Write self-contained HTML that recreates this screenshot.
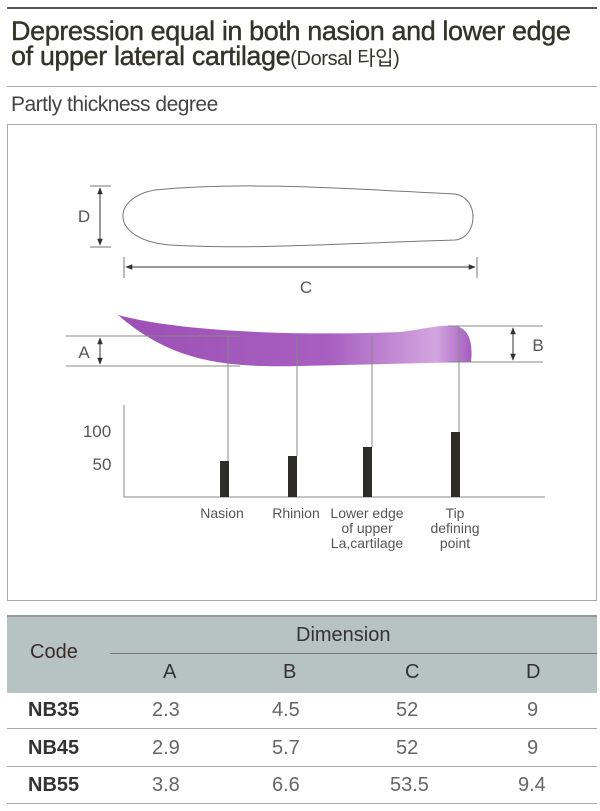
<!DOCTYPE html>
<html><head><meta charset="utf-8"><style>
body{margin:0;width:600px;height:811px;background:#fff;font-family:"Liberation Sans","Noto Sans CJK KR",sans-serif;position:relative;overflow:hidden}
.a{position:absolute}
</style></head><body>
<div class="a" style="left:7px;top:7px;width:590px;height:2px;background:#555"></div>
<div class="a" style="left:11px;top:19px;font-size:27px;line-height:25px;color:#33332a;letter-spacing:-0.4px;-webkit-text-stroke:0.4px #33332a">Depression equal in both nasion and lower edge<br>of upper lateral cartilage<span style="font-size:20px;-webkit-text-stroke:0">(Dorsal 타입)</span></div>
<div class="a" style="left:7px;top:86px;width:590px;height:1px;background:#aaa"></div>
<div class="a" style="left:11px;top:93px;font-size:21px;color:#444;letter-spacing:-0.5px">Partly thickness degree</div>
<div class="a" style="left:7px;top:124px;width:588px;height:475px;border:1px solid #aaa"></div>
<svg class="a" style="left:0;top:0" width="600" height="811">
<defs><linearGradient id="g" x1="0" y1="0" x2="1" y2="0"><stop offset="0" stop-color="#9d4fb5"/><stop offset="0.6" stop-color="#a85fc0"/><stop offset="0.9" stop-color="#d3a6e0"/><stop offset="1" stop-color="#a65bbf"/></linearGradient>
<marker id="ar" viewBox="0 0 10 10" refX="9" refY="5" markerWidth="7" markerHeight="7" orient="auto-start-reverse"><path d="M0,1L10,5L0,9z" fill="#333"/></marker></defs>
<g stroke="#777" stroke-width="1" fill="none">
<path d="M155,190 C250,181 350,189 455,194 C480,198 478,238 455,240 C350,243 250,250 170,245 C110,240 110,198 155,190z"/>
<line x1="90" y1="186" x2="111" y2="186"/><line x1="90" y1="247" x2="111" y2="247"/>
<line x1="124" y1="257" x2="124" y2="278"/><line x1="477" y1="257" x2="477" y2="278"/>
</g>
<line x1="100" y1="188" x2="100" y2="245" stroke="#333" marker-start="url(#ar)" marker-end="url(#ar)"/>
<line x1="126" y1="267" x2="475" y2="267" stroke="#333" marker-start="url(#ar)" marker-end="url(#ar)"/>
<path d="M118,315 C180,332 300,336 400,332 C420,330 440,324 455,326 C470,328 473,345 471,362 L300,366 C220,368 170,360 118,315z" fill="url(#g)"/>
<g stroke="#888" stroke-width="1">
<line x1="66" y1="336" x2="240" y2="336"/><line x1="66" y1="366" x2="240" y2="366"/>
<line x1="448" y1="326" x2="543" y2="326"/><line x1="448" y1="362" x2="543" y2="362"/>
<line x1="228" y1="336" x2="228" y2="461"/><line x1="297" y1="336" x2="297" y2="456"/>
<line x1="372" y1="336" x2="372" y2="447"/><line x1="459" y1="326" x2="459" y2="432"/>
<line x1="124" y1="405" x2="124" y2="497"/><line x1="124" y1="497" x2="545" y2="497"/>
</g>
<line x1="100" y1="338" x2="100" y2="364" stroke="#333" marker-start="url(#ar)" marker-end="url(#ar)"/>
<line x1="513" y1="328" x2="513" y2="360" stroke="#333" marker-start="url(#ar)" marker-end="url(#ar)"/>
<g fill="#2e2c28"><rect x="220" y="461" width="9" height="36"/><rect x="288" y="456" width="9" height="41"/><rect x="363" y="447" width="9" height="50"/><rect x="451" y="432" width="9" height="65"/></g>
<g fill="#555" font-family="Liberation Sans,sans-serif" font-size="17" text-anchor="middle">
<text x="84" y="222">D</text><text x="306" y="293">C</text><text x="84" y="358">A</text><text x="538" y="351">B</text>
<text x="97" y="437">100</text><text x="102" y="470">50</text>
</g>
<g fill="#555" font-family="Liberation Sans,sans-serif" font-size="14" text-anchor="middle">
<text x="222" y="518">Nasion</text><text x="296" y="518">Rhinion</text>
<text x="367" y="518">Lower edge</text><text x="367" y="533">of upper</text><text x="367" y="548">La,cartilage</text>
<text x="455" y="518">Tip</text><text x="455" y="533">defining</text><text x="455" y="548">point</text>
</g>
</svg>
<div class="a" style="left:7px;top:615px;width:590px;height:76px;background:#b7c3c2;border-top:2px solid #999"></div>
<div class="a" style="left:110px;top:653px;width:487px;height:1px;background:#777"></div>
<div class="a" style="left:7px;top:728px;width:590px;height:1px;background:#aaa"></div>
<div class="a" style="left:7px;top:766px;width:590px;height:1px;background:#aaa"></div>
<div class="a" style="left:7px;top:803px;width:590px;height:1px;background:#aaa"></div>
<div class="a" style="left:30px;top:641px;font-size:20px;color:#3a2a2a">Code</div>
<div class="a" style="left:296px;top:624px;font-size:20px;color:#333">Dimension</div>
<div class="a" style="font-size:20px;color:#333;top:661px;left:163px">A</div>
<div class="a" style="font-size:20px;color:#333;top:661px;left:283px">B</div>
<div class="a" style="font-size:20px;color:#333;top:661px;left:405px">C</div>
<div class="a" style="font-size:20px;color:#333;top:661px;left:526px">D</div>
<div class="a" style="left:0;top:699px;width:600px;font-size:20px;color:#666">
<b class="a" style="left:28px;color:#333">NB35</b><span class="a" style="left:152px">2.3</span><span class="a" style="left:272px">4.5</span><span class="a" style="left:396px">52</span><span class="a" style="left:527px">9</span></div>
<div class="a" style="left:0;top:737px;width:600px;font-size:20px;color:#666">
<b class="a" style="left:28px;color:#333">NB45</b><span class="a" style="left:152px">2.9</span><span class="a" style="left:272px">5.7</span><span class="a" style="left:396px">52</span><span class="a" style="left:527px">9</span></div>
<div class="a" style="left:0;top:774px;width:600px;font-size:20px;color:#666">
<b class="a" style="left:28px;color:#333">NB55</b><span class="a" style="left:152px">3.8</span><span class="a" style="left:272px">6.6</span><span class="a" style="left:390px">53.5</span><span class="a" style="left:518px">9.4</span></div>
</body></html>
